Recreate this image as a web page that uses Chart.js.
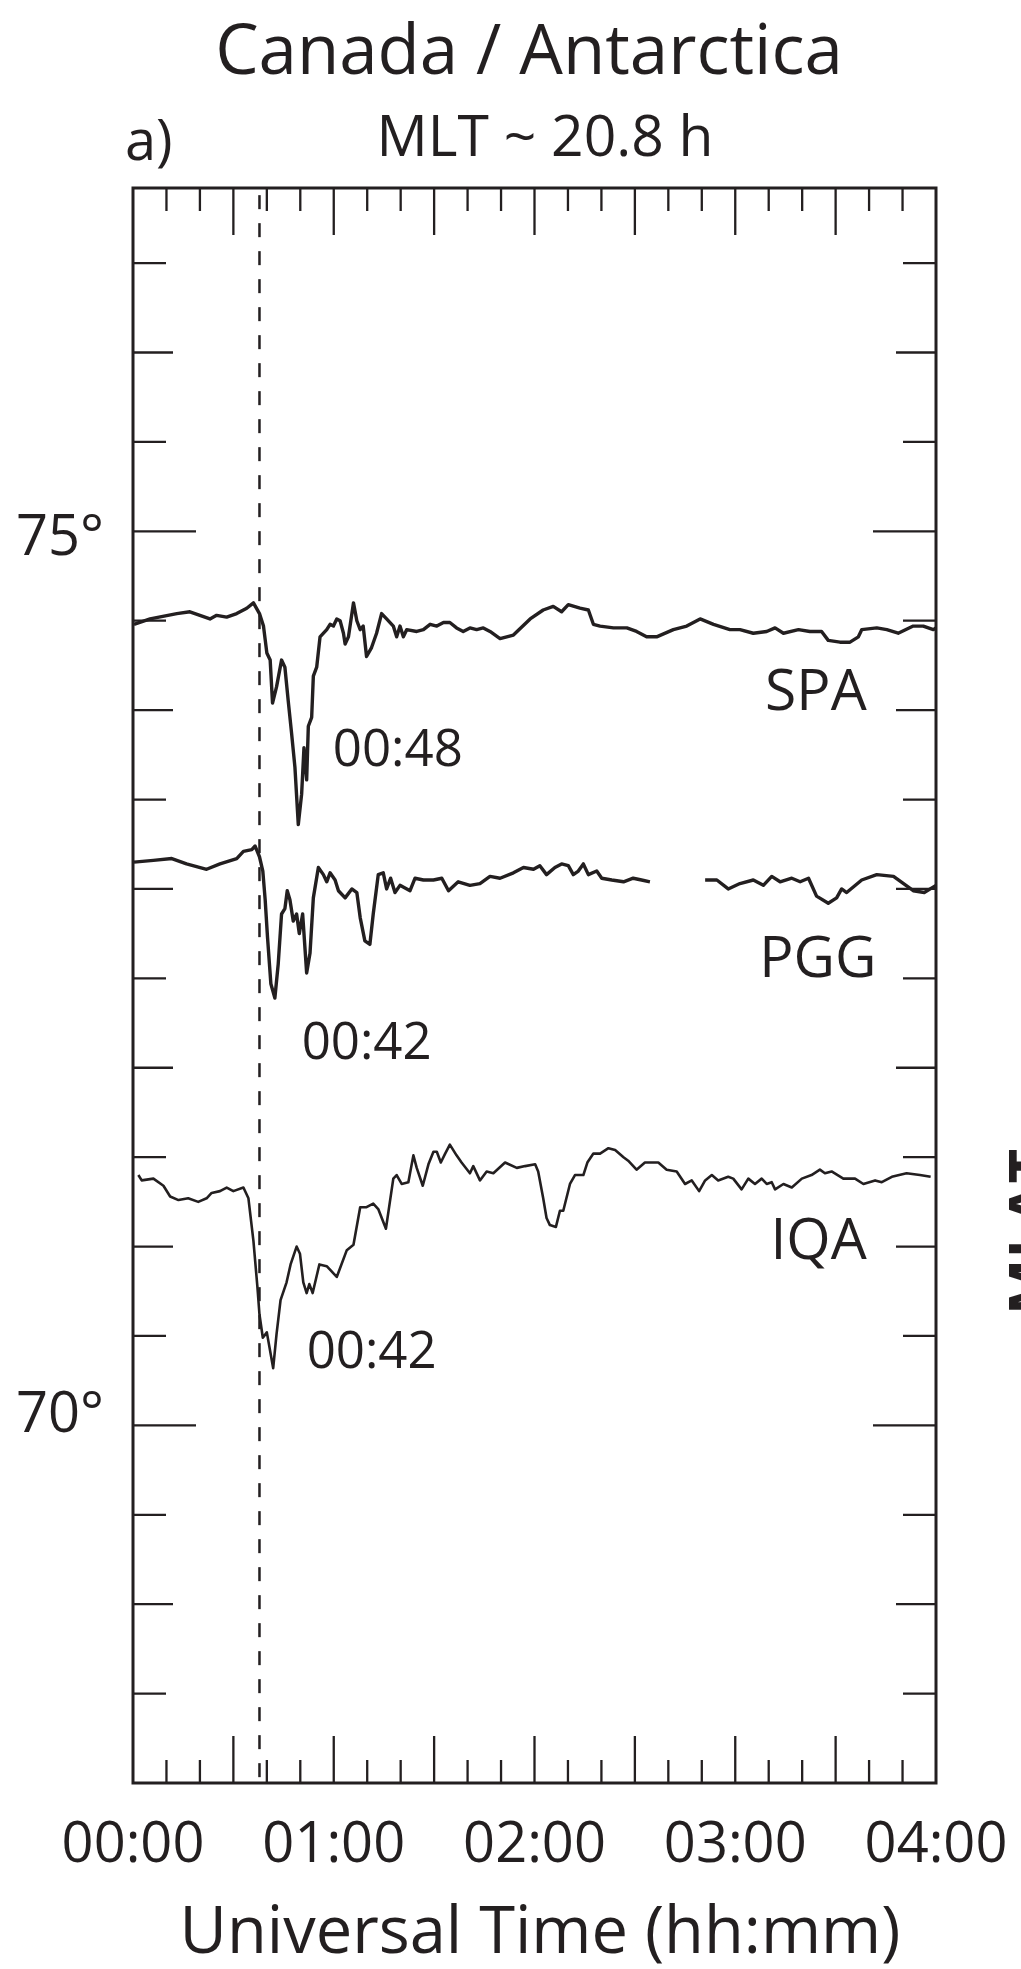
<!DOCTYPE html>
<html>
<head>
<meta charset="utf-8">
<script src="https://cdn.jsdelivr.net/npm/chart.js@4.4.0/dist/chart.umd.min.js"></script>
<style>
  html, body { margin: 0; padding: 0; background: #fff; }
  canvas { display: block; }
</style>
</head>
<body>
<canvas id="chart" width="1021" height="1969"></canvas>
<script>
const INK = "#231f20";
const FONT = "'Open Sans', 'Noto Sans', sans-serif";

// minutes after 00:00 UT / latitude in degrees
const spaTime = [0.3, 5.1, 13.1, 17.0, 20.0, 23.0, 25.0, 28.0, 31.0, 34.0, 36.0, 37.8, 39.0, 40.0, 41.0, 41.7, 42.9, 44.4, 45.4, 46.4, 47.4, 48.4, 49.4, 50.4, 51.1, 51.9, 52.4, 53.4, 53.9, 54.9, 55.9, 57.9, 58.9, 59.9, 60.9, 61.9, 62.9, 63.4, 64.4, 65.9, 66.9, 67.9, 68.8, 69.8, 71.3, 72.8, 74.3, 75.8, 77.8, 78.8, 79.8, 80.8, 81.8, 84.8, 86.8, 88.8, 90.8, 92.8, 94.7, 96.7, 98.7, 100.7, 102.7, 104.7, 106.7, 109.7, 113.7, 118.7, 122.6, 125.6, 128.1, 130.1, 133.6, 136.1, 137.6, 139.6, 143.6, 147.6, 150.5, 153.5, 156.5, 161.5, 165.5, 169.5, 173.5, 178.4, 181.4, 185.4, 189.4, 191.9, 194.4, 198.9, 202.3, 205.8, 207.8, 211.3, 214.3, 216.8, 217.8, 222.3, 225.3, 228.7, 233.2, 236.2, 239.2, 240];
const spaLat = [74.48, 74.51, 74.54, 74.55, 74.53, 74.51, 74.53, 74.52, 74.54, 74.57, 74.60, 74.54, 74.47, 74.32, 74.28, 74.04, 74.13, 74.28, 74.24, 74.05, 73.87, 73.68, 73.36, 73.53, 73.79, 73.61, 73.91, 73.96, 74.19, 74.24, 74.41, 74.45, 74.48, 74.47, 74.51, 74.50, 74.43, 74.37, 74.41, 74.60, 74.50, 74.45, 74.47, 74.30, 74.35, 74.43, 74.54, 74.51, 74.47, 74.41, 74.47, 74.41, 74.45, 74.44, 74.45, 74.48, 74.47, 74.49, 74.49, 74.46, 74.44, 74.46, 74.45, 74.46, 74.44, 74.40, 74.42, 74.51, 74.56, 74.58, 74.55, 74.59, 74.57, 74.56, 74.48, 74.47, 74.46, 74.46, 74.44, 74.41, 74.41, 74.45, 74.47, 74.51, 74.48, 74.45, 74.45, 74.43, 74.44, 74.46, 74.43, 74.45, 74.44, 74.44, 74.39, 74.38, 74.38, 74.41, 74.45, 74.46, 74.45, 74.43, 74.47, 74.47, 74.45, 74.46];

const pggTime = [0.3, 6.1, 11.6, 16.0, 22.0, 26.0, 31.0, 33.0, 35.5, 36.5, 37.8, 38.8, 39.5, 40.2, 41.2, 42.4, 43.4, 44.4, 45.4, 46.1, 46.9, 47.9, 48.9, 49.7, 50.7, 51.9, 52.9, 53.9, 55.4, 56.9, 57.9, 58.9, 60.4, 61.4, 63.4, 65.4, 66.9, 67.9, 69.3, 70.8, 71.8, 73.3, 74.8, 75.8, 77.0, 78.3, 79.8, 82.8, 84.3, 86.8, 89.8, 92.3, 94.3, 97.2, 100.7, 103.7, 106.7, 109.7, 113.7, 116.7, 119.7, 121.6, 123.6, 126.1, 128.1, 130.1, 131.6, 133.1, 134.6, 136.1, 138.6, 140.1, 143.1, 146.6, 149.5, 152.0, 154.5, 162.0, 171.0, 174.5, 177.9, 181.4, 185.4, 188.4, 190.9, 193.4, 196.9, 199.4, 201.9, 204.3, 207.8, 210.3, 211.8, 213.3, 217.8, 222.3, 227.3, 233.2, 236.5, 240];
const pggLat = [73.15, 73.16, 73.17, 73.14, 73.11, 73.14, 73.17, 73.21, 73.22, 73.24, 73.18, 73.10, 72.94, 72.73, 72.47, 72.39, 72.58, 72.86, 72.89, 72.99, 72.94, 72.82, 72.86, 72.75, 72.86, 72.53, 72.64, 72.95, 73.12, 73.08, 73.04, 73.09, 73.05, 72.99, 72.95, 73.00, 72.98, 72.84, 72.71, 72.69, 72.86, 73.08, 73.09, 73.00, 73.06, 72.98, 73.02, 72.99, 73.06, 73.05, 73.05, 73.06, 72.99, 73.04, 73.02, 73.03, 73.07, 73.06, 73.09, 73.12, 73.11, 73.13, 73.08, 73.12, 73.14, 73.13, 73.08, 73.10, 73.14, 73.08, 73.10, 73.06, 73.05, 73.04, 73.06, 73.05, 73.04, null, 73.05, 73.05, 73.00, 73.03, 73.05, 73.02, 73.07, 73.04, 73.06, 73.04, 73.06, 72.96, 72.92, 72.95, 73.00, 72.98, 73.05, 73.08, 73.07, 72.99, 72.98, 73.02];

const iqaTime = [1.6, 2.6, 6.1, 9.1, 11.1, 13.6, 16.5, 19.5, 22.0, 23.5, 26.0, 28.0, 30.0, 33.0, 34.5, 36.0, 37.2, 37.8, 38.8, 40.0, 41.9, 42.9, 44.1, 45.9, 47.1, 48.9, 49.9, 50.9, 51.9, 52.7, 53.7, 55.7, 57.9, 60.9, 63.9, 65.9, 67.9, 69.8, 71.8, 73.3, 75.6, 77.8, 78.8, 80.3, 82.3, 83.8, 84.8, 86.6, 88.3, 89.8, 90.8, 92.0, 93.3, 94.7, 96.7, 98.2, 100.7, 101.7, 103.7, 105.7, 107.7, 111.2, 114.7, 117.2, 120.2, 121.1, 122.6, 123.6, 124.6, 126.4, 127.6, 128.6, 130.6, 132.1, 134.6, 135.8, 137.6, 139.6, 142.1, 144.1, 146.6, 148.0, 150.5, 153.0, 157.0, 159.5, 162.5, 165.0, 167.0, 169.2, 171.0, 173.0, 174.9, 177.9, 179.4, 181.9, 183.9, 185.9, 187.9, 189.4, 190.9, 191.9, 194.4, 196.9, 199.9, 202.8, 205.3, 206.8, 208.8, 212.3, 215.8, 218.3, 221.8, 223.8, 226.8, 231.2, 235.2, 238.4];
const iqaLat = [71.40, 71.37, 71.38, 71.34, 71.28, 71.26, 71.27, 71.25, 71.27, 71.30, 71.31, 71.33, 71.31, 71.33, 71.27, 71.03, 70.77, 70.62, 70.49, 70.52, 70.32, 70.51, 70.70, 70.80, 70.90, 71.00, 70.96, 70.80, 70.74, 70.79, 70.74, 70.90, 70.89, 70.83, 70.98, 71.01, 71.22, 71.22, 71.24, 71.21, 71.10, 71.38, 71.40, 71.35, 71.36, 71.51, 71.44, 71.34, 71.46, 71.53, 71.53, 71.47, 71.52, 71.57, 71.51, 71.47, 71.41, 71.45, 71.37, 71.42, 71.41, 71.47, 71.44, 71.45, 71.46, 71.42, 71.27, 71.16, 71.12, 71.11, 71.20, 71.20, 71.35, 71.40, 71.40, 71.47, 71.52, 71.52, 71.55, 71.54, 71.50, 71.48, 71.43, 71.47, 71.47, 71.43, 71.42, 71.35, 71.37, 71.31, 71.37, 71.40, 71.37, 71.39, 71.38, 71.32, 71.38, 71.35, 71.38, 71.35, 71.36, 71.32, 71.35, 71.33, 71.38, 71.40, 71.43, 71.41, 71.42, 71.38, 71.38, 71.35, 71.37, 71.36, 71.39, 71.41, 71.40, 71.39];

const onsetTime = 37.8;
const xLabelTimes = [0, 60, 120, 180, 240];
const xTickLabels = ["00:00", "01:00", "02:00", "03:00", "04:00"];
const yLabelValues = [75, 70];
const yTickLabels = ["75°", "70°"];

const stationNames = ["SPA", "PGG", "IQA"];
const stationLabelAt = [[204.1, 74.0], [204.7, 72.51], [204.9, 70.93]];
const peakTimes = ["00:48", "00:42", "00:42"];
const peakLabelAt = [[59.7, 73.69], [50.4, 72.05], [51.9, 70.32]];

const X_MIN = 0, X_MAX = 240, Y_MIN = 68, Y_MAX = 76.92;

function toPoints(times, lats) {
  return times.map((t, i) => ({ x: t, y: lats[i] }));
}

function text(ctx, str, x, y, size, align, weight = "normal") {
  ctx.font = `${weight} ${size}px ${FONT}`;
  ctx.textAlign = align;
  ctx.textBaseline = "alphabetic";
  ctx.fillText(str, x, y);
}

const frameAndText = {
  id: "frameAndText",
  afterDatasetsDraw(chart) {
    const { ctx, chartArea: a, scales } = chart;
    const xs = scales.x, ys = scales.y;
    ctx.save();
    ctx.strokeStyle = INK;
    ctx.fillStyle = INK;
    ctx.lineCap = "butt";

    // frame
    ctx.lineWidth = 3;
    ctx.strokeRect(a.left, a.top, a.right - a.left, a.bottom - a.top);

    // time ticks every 10 min, long every 30 min, on bottom and top, pointing in
    ctx.lineWidth = 2.3;
    ctx.beginPath();
    for (let t = 10; t < X_MAX; t += 10) {
      const px = xs.getPixelForValue(t);
      const len = t % 30 === 0 ? 47 : 23;
      ctx.moveTo(px, a.bottom);
      ctx.lineTo(px, a.bottom - len);
      ctx.moveTo(px, a.top);
      ctx.lineTo(px, a.top + len);
    }
    // latitude ticks every 0.5 deg on both sides
    for (let v = Y_MIN + 0.5; v < Y_MAX; v += 0.5) {
      const py = ys.getPixelForValue(v);
      const len = v % 5 === 0 ? 63 : (v % 1 === 0 ? 40 : 33);
      ctx.moveTo(a.left, py);
      ctx.lineTo(a.left + len, py);
      ctx.moveTo(a.right, py);
      ctx.lineTo(a.right - len, py);
    }
    ctx.stroke();

    // axis labels
    xLabelTimes.forEach((t, i) => {
      text(ctx, xTickLabels[i], xs.getPixelForValue(t), 1862, 56, "center");
    });
    const yOffsets = [24, 7];
    yLabelValues.forEach((v, i) => {
      text(ctx, yTickLabels[i], 104, ys.getPixelForValue(v) + yOffsets[i], 56, "right");
    });
    text(ctx, "Universal Time (hh:mm)", 540, 1953, 65, "center");

    // titles
    text(ctx, "Canada / Antarctica", 529, 74, 69, "center");
    text(ctx, "MLT ~ 20.8 h", 545, 156, 57, "center");
    text(ctx, "a)", 125, 160, 56, "left");

    // station names and peak times
    stationNames.forEach((name, i) => {
      const [t, v] = stationLabelAt[i];
      text(ctx, name, xs.getPixelForValue(t), ys.getPixelForValue(v), 57, "center");
    });
    peakTimes.forEach((lbl, i) => {
      const [t, v] = peakLabelAt[i];
      text(ctx, lbl, xs.getPixelForValue(t), ys.getPixelForValue(v), 51, "left");
    });

    // axis title of the neighbouring panel, cut by the page edge
    ctx.save();
    ctx.translate(1010, 1232);
    ctx.rotate(-Math.PI / 2);
    text(ctx, "MLAT", 0, 43, 60, "center", "bold");
    ctx.restore();

    ctx.restore();
  }
};

const traceStyle = {
  borderColor: INK,
  pointRadius: 0,
  tension: 0,
  borderJoinStyle: "round",
  fill: false,
  spanGaps: false
};

new Chart(document.getElementById("chart"), {
  type: "line",
  data: {
    datasets: [
      { ...traceStyle, label: "SPA", data: toPoints(spaTime, spaLat), borderWidth: 3.4 },
      { ...traceStyle, label: "PGG", data: toPoints(pggTime, pggLat), borderWidth: 3.4 },
      { ...traceStyle, label: "IQA", data: toPoints(iqaTime, iqaLat), borderWidth: 2.6 },
      {
        ...traceStyle,
        label: "onset",
        data: [{ x: onsetTime, y: 76.88 }, { x: onsetTime, y: Y_MIN }],
        borderWidth: 2.5,
        borderDash: [14, 14]
      }
    ]
  },
  options: {
    responsive: false,
    animation: false,
    layout: { padding: { left: 133, right: 85, top: 188, bottom: 186 } },
    scales: {
      x: { type: "linear", min: X_MIN, max: X_MAX, display: false },
      y: { type: "linear", min: Y_MIN, max: Y_MAX, display: false }
    },
    plugins: {
      legend: { display: false },
      tooltip: { enabled: false }
    }
  },
  plugins: [frameAndText]
});
</script>
</body>
</html>
